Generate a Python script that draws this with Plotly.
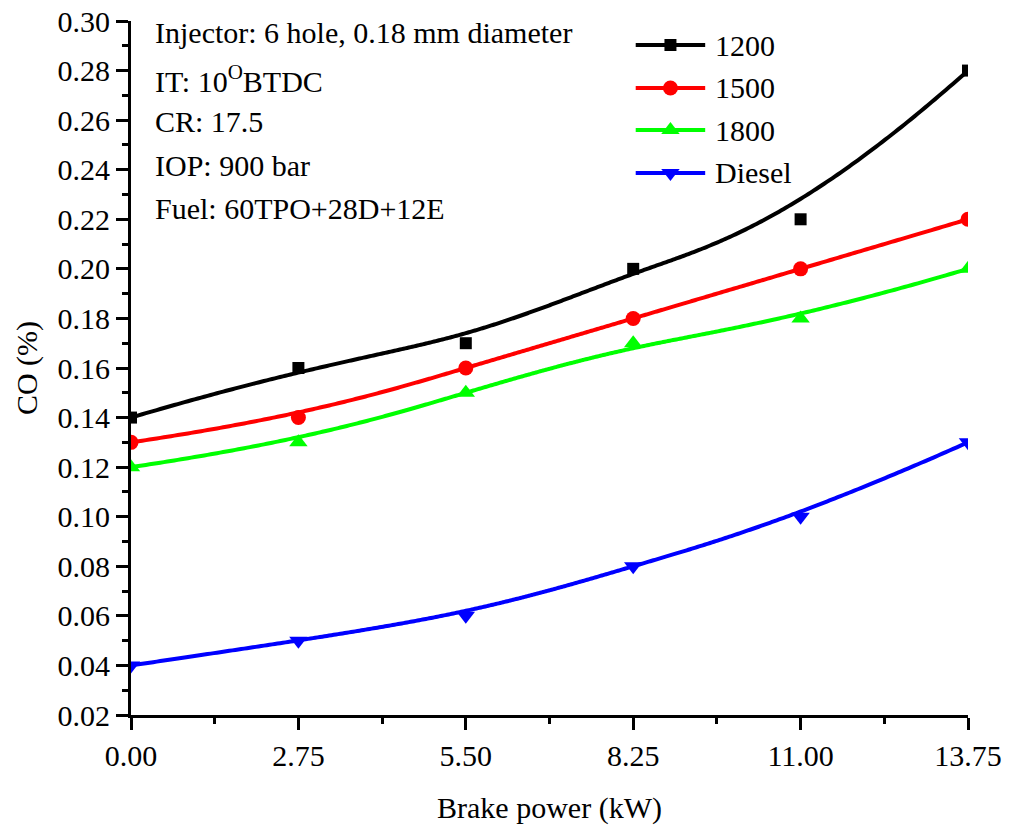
import numpy as np
import plotly.graph_objects as go

# Brake power (kW) and CO emissions (%) at each injection-pressure setting
brake_power = [0.0, 2.75, 5.50, 8.25, 11.00, 13.75]
co_1200 = [0.14, 0.16, 0.17, 0.20, 0.22, 0.28]
co_1500 = [0.13, 0.14, 0.16, 0.18, 0.20, 0.22]
co_1800 = [0.12, 0.13, 0.15, 0.17, 0.18, 0.20]
co_diesel = [0.04, 0.05, 0.06, 0.08, 0.10, 0.13]

series_names = ["1200", "1500", "1800", "Diesel"]
series_values = [co_1200, co_1500, co_1800, co_diesel]
series_colors = ["#000000", "#FF0000", "#00FF00", "#0000FF"]
series_symbols = ["square", "circle", "triangle-up", "triangle-down"]
series_sizes = [12, 15, 16, 16]

x_ticks = [0.0, 2.75, 5.50, 8.25, 11.00, 13.75]
x_tick_labels = ["0.00", "2.75", "5.50", "8.25", "11.00", "13.75"]

notes = [
    "Injector: 6 hole, 0.18 mm diameter",
    "IT: 10<sup>O</sup>BTDC",
    "CR: 17.5",
    "IOP: 900 bar",
    "Fuel: 60TPO+28D+12E",
]

FONT = "Liberation Serif"
FSIZE = 30


def bspline(xs, ys, degree=3, samples=400):
    """Clamped uniform B-spline using the data points as control points."""
    pts = np.column_stack([xs, ys]).astype(float)
    n = len(pts)
    inner = list(range(1, n - degree))
    knots = np.array([0] * (degree + 1) + inner + [n - degree] * (degree + 1), float)
    t = np.linspace(0, n - degree, samples)
    t[-1] -= 1e-9

    def basis(i, k, tt):
        if k == 0:
            return np.where((knots[i] <= tt) & (tt < knots[i + 1]), 1.0, 0.0)
        out = np.zeros_like(tt)
        d1 = knots[i + k] - knots[i]
        d2 = knots[i + k + 1] - knots[i + 1]
        if d1 > 0:
            out += (tt - knots[i]) / d1 * basis(i, k - 1, tt)
        if d2 > 0:
            out += (knots[i + k + 1] - tt) / d2 * basis(i + 1, k - 1, tt)
        return out

    B = np.array([basis(i, degree, t) for i in range(n)])
    curve = B.T @ pts
    return curve[:, 0], curve[:, 1]


fig = go.Figure()

for name, vals, color, sym, size in zip(series_names, series_values, series_colors,
                                        series_symbols, series_sizes):
    cx, cy = bspline(brake_power, vals)
    fig.add_trace(go.Scatter(x=cx, y=cy, mode="lines",
                             line=dict(color=color, width=4, simplify=False),
                             showlegend=False, hoverinfo="skip"))
    fig.add_trace(go.Scatter(x=brake_power, y=vals, mode="markers", name=name,
                             marker=dict(symbol=sym, size=size, color=color,
                                         line=dict(width=0)),
                             showlegend=False))

# Legend key drawn on an overlay axis covering the plot area (0..1 both ways)
legend_y = [0.9654, 0.9035, 0.8429, 0.7810]
for name, color, sym, size, ly in zip(series_names, series_colors, series_symbols,
                                      series_sizes, legend_y):
    fig.add_trace(go.Scatter(x=[0.603, 0.686], y=[ly, ly], mode="lines",
                             line=dict(color=color, width=4), xaxis="x2", yaxis="y2",
                             showlegend=False, hoverinfo="skip", cliponaxis=False))
    fig.add_trace(go.Scatter(x=[0.6445], y=[ly], mode="markers",
                             marker=dict(symbol=sym, size=size, color=color),
                             xaxis="x2", yaxis="y2", showlegend=False,
                             hoverinfo="skip", cliponaxis=False))
    fig.add_annotation(x=0.695, y=ly, xref="paper", yref="paper", text=name,
                       showarrow=False, xanchor="left", yanchor="middle",
                       font=dict(family=FONT, size=FSIZE, color="black"))

note_y = [0.9841, 0.9164, 0.8545, 0.7925, 0.7305]
for txt, py in zip(notes, note_y):
    fig.add_annotation(x=0.0263, y=py, xref="paper", yref="paper", text=txt,
                       showarrow=False, xanchor="left", yanchor="middle",
                       font=dict(family=FONT, size=FSIZE, color="black"))

axis_common = dict(
    showgrid=False, zeroline=False, showline=True, linecolor="black", linewidth=3,
    ticks="outside", ticklen=12, tickwidth=3, tickcolor="black", automargin=False,
    tickfont=dict(family=FONT, size=FSIZE, color="black"),
    title_font=dict(family=FONT, size=FSIZE, color="black"),
)

fig.update_layout(
    width=1010, height=838,
    margin=dict(l=131, r=42, t=21, b=123),
    paper_bgcolor="white", plot_bgcolor="white",
    font=dict(family=FONT, size=FSIZE, color="black"),
    xaxis=dict(range=[0, 13.75], tickvals=x_ticks, ticktext=x_tick_labels,
               title=dict(text="Brake power (kW)", standoff=26),
               minor=dict(dtick=1.375, tick0=0, ticklen=6, tickwidth=3,
                          tickcolor="black", ticks="outside"),
               **axis_common),
    yaxis=dict(range=[0.02, 0.30], dtick=0.02, tick0=0.02, tickformat=".2f",
               title=dict(text="CO (%)", standoff=12),
               minor=dict(dtick=0.01, tick0=0.02, ticklen=6, tickwidth=3,
                          tickcolor="black", ticks="outside"),
               **axis_common),
    xaxis2=dict(range=[0, 1], visible=False, overlaying="x", anchor="y2",
                fixedrange=True),
    yaxis2=dict(range=[0, 1], visible=False, overlaying="y", anchor="x2",
                fixedrange=True),
    showlegend=False,
)

fig.write_html("out.html")
